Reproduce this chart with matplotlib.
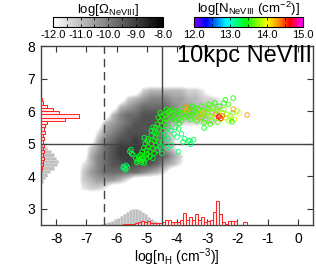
import numpy as np
import matplotlib
matplotlib.use("Agg")
import matplotlib.pyplot as plt
from matplotlib.colors import LinearSegmentedColormap, Normalize
from matplotlib.cm import ScalarMappable
from matplotlib.ticker import MultipleLocator

plt.rcParams['font.family'] = ['Liberation Sans', 'DejaVu Sans']
plt.rcParams['mathtext.fontset'] = 'custom'
plt.rcParams['mathtext.rm'] = 'Liberation Sans'
plt.rcParams['mathtext.it'] = 'Liberation Sans:italic'
plt.rcParams['axes.unicode_minus'] = False

# ---------------- data ----------------
# gas map: level code per 0.25 dex cell (rows from top y=7.0 down to 3.25; cols x=-8.0..-2.0)
omega_rows = [
    "000000000000000000000000",
    "000000000002333332210000",
    "000000000234555443322100",
    "000000003456666544332210",
    "000000035667776544332200",
    "000000345677775322222100",
    "000001456777764100000000",
    "000003567787764200000000",
    "000024678888764200000000",
    "000035678888876420000000",
    "000135677877764310000000",
    "000245666665431000000000",
    "000234443100000000000000",
    "000122100000000000000000",
    "000000000000000000000000",
]
omega_level_values = [-13.0, -11.7, -11.3, -10.9, -10.5, -10.1, -9.7, -9.3, -8.95, -8.6]

# absorber points: log nH, log T, log N(NeVIII)
pt_x = [-5.76,-5.72,-5.68,-5.70,-5.64,-5.78,
        -5.56,-5.50,-5.52,-5.46,
        -5.36,-5.30,-5.26,-5.20,-5.15,-5.10,-5.05,-5.20,-5.28,-5.12,-5.00,-5.18,-5.33,-5.08,
        -5.15,-5.10,-5.00,-4.95,-4.90,-4.85,-4.80,-4.75,-4.70,-5.05,-4.95,-4.85,-4.70,-4.65,-4.75,-4.60,-4.55,-5.00,-4.90,-4.80,-4.98,-5.08,
        -4.75,-4.70,-4.65,-4.60,-4.55,-4.50,-4.50,-4.45,-4.40,-4.62,-4.80,-4.85,-4.55,-4.40,-4.35,-4.42,-4.30,-4.68,
        -4.30,-4.20,-4.10,-4.00,-3.90,-3.80,-3.75,-4.15,-4.05,-3.95,-3.85,-4.25,-3.70,-3.65,-3.72,-3.62,-3.68,-3.60,-4.35,-4.00,-3.85,-4.15,-3.92,
        -4.20,-4.10,-4.00,-3.95,-3.85,-3.75,-3.62,-3.55,-3.45,-4.30,-4.20,-4.33,-3.96,-3.80,-4.45,-4.50,-4.05,-3.57,-3.10,
        -3.50,-3.45,-3.40,-3.35,-3.30,-3.25,-3.20,-3.15,-3.10,-3.05,-3.00,-2.95,-2.90,-2.85,-2.80,-2.75,-2.70,-2.65,-2.60,-2.55,
        -2.50,-2.45,-2.40,-2.35,-2.30,-2.25,-2.20,-2.15,-3.55,-3.35,-3.10,-2.85,-2.95,-2.75,-2.60,-3.20,-2.70,-2.62,-2.55,-2.50,
        -2.14,-1.68,-2.10,-1.94,-2.14,-2.18,-3.14,-3.27,-2.45,-2.30,-2.40,-2.00,-3.40,-3.60,-2.90,-2.65,-3.00,-3.50]
pt_y = [4.30,4.24,4.33,4.20,4.27,4.26,
        4.76,4.70,4.82,4.66,
        4.55,4.47,4.61,4.50,4.58,4.46,4.62,4.66,4.52,4.53,4.56,4.43,4.42,4.40,
        4.76,4.86,4.80,4.91,4.76,5.00,4.86,5.10,4.95,5.00,5.15,5.25,5.20,4.80,4.70,5.05,4.90,4.68,4.60,4.55,5.08,5.18,
        5.35,5.50,5.60,5.45,5.70,5.55,5.85,5.40,5.65,5.80,5.50,5.40,5.95,5.90,5.75,5.25,5.50,5.30,
        5.95,5.90,5.95,5.85,5.95,5.90,5.80,5.75,5.70,5.75,5.70,6.00,5.95,6.10,6.12,6.08,6.02,5.85,6.05,6.00,6.05,6.05,5.62,
        5.40,5.30,5.20,5.45,5.30,5.15,5.08,4.98,5.12,5.15,4.95,4.87,4.75,5.05,5.05,4.70,5.50,5.10,5.48,
        5.90,6.00,5.85,5.95,6.05,5.90,5.80,6.00,5.90,5.75,5.95,6.05,5.85,5.95,6.10,5.80,5.90,6.00,5.85,5.75,
        5.95,6.05,5.80,5.90,5.70,5.85,5.75,5.95,5.75,5.70,5.65,5.70,6.20,6.25,6.15,6.15,6.05,5.82,5.78,5.85,
        6.06,5.88,5.75,5.93,6.40,5.67,5.94,5.79,6.25,6.20,6.35,6.00,6.10,6.00,5.60,5.65,6.10,6.15]
pt_logN = [13.25,13.30,13.20,13.25,13.30,13.20,
           13.30,13.35,13.30,13.30,
           13.35,13.40,13.35,13.40,13.45,13.40,13.40,13.45,13.40,13.45,13.40,13.35,13.35,13.40,
           13.45,13.40,13.45,13.45,13.40,13.45,13.45,13.45,13.40,13.35,13.40,13.35,13.45,13.40,13.45,13.40,13.30,13.40,13.45,13.40,13.50,13.30,
           13.40,13.45,13.50,13.40,13.50,13.45,13.50,13.35,13.50,13.45,13.35,13.30,13.50,13.50,13.55,13.30,13.40,13.40,
           13.50,13.55,13.50,13.55,13.55,13.55,13.55,13.50,13.45,13.50,13.55,13.50,13.55,13.60,14.30,14.35,14.20,13.55,13.45,13.50,13.55,13.50,13.45,
           13.20,13.25,13.20,13.30,13.25,13.20,13.25,13.20,13.25,13.20,13.25,13.20,13.20,13.30,13.25,13.30,13.30,13.25,13.40,
           13.55,13.55,13.60,13.55,13.60,13.65,13.60,13.70,13.65,13.60,13.70,13.65,13.75,13.70,13.65,13.80,14.30,13.75,14.50,13.90,
           13.80,13.70,13.90,13.75,13.80,13.85,13.80,13.70,13.55,13.55,13.60,13.70,13.55,13.50,13.55,13.55,13.70,14.70,14.60,14.40,
           14.30,14.30,13.90,13.95,13.50,13.45,14.20,14.25,13.50,13.55,13.50,13.85,13.55,13.55,13.55,13.65,13.60,13.50]

# side histograms
gas_T_bins = [3.85,3.95,4.05,4.15,4.25,4.35,4.45,4.55,4.65,4.75,4.85,4.95]
gas_T_hist = [0.05,0.12,0.20,0.30,0.42,0.52,0.55,0.50,0.42,0.32,0.20,0.08]
abs_T_bins = [6.35,6.25,6.15,6.05,5.95,5.85,5.75,5.65,5.55,5.45,5.35,5.25,5.15,5.05,4.95,4.85,4.75,4.65,4.55,4.45,4.35,4.25]
abs_T_hist = [0.03,0.05,0.19,0.40,0.60,1.27,0.80,0.19,0.13,0.10,0.13,0.08,0.10,0.08,0.10,0.08,0.10,0.08,0.10,0.08,0.06,0.04]
gas_n_bins = [-6.45,-6.35,-6.25,-6.15,-6.05,-5.95,-5.85,-5.75,-5.65,-5.55,-5.45,-5.35,-5.25,-5.15,-5.05,-4.95,-4.85,-4.75,-4.65,-4.55,-4.45]
gas_n_hist = [0.03,0.06,0.09,0.13,0.17,0.22,0.28,0.35,0.41,0.46,0.49,0.48,0.45,0.40,0.33,0.26,0.19,0.13,0.08,0.04,0.02]
abs_n_bins = [-5.75,-5.65,-5.55,-5.45,-5.35,-5.25,-5.15,-5.05,-4.95,-4.85,-4.75,-4.65,-4.55,-4.45,-4.35,-4.25,-4.15,-4.05,-3.95,-3.85,
              -3.75,-3.65,-3.55,-3.45,-3.35,-3.25,-3.15,-3.05,-2.95,-2.85,-2.75,-2.65,-2.55,-2.45,-2.35,-2.25,-2.15,-2.05,-1.95,-1.85,-1.75]
abs_n_hist = [0.03,0.03,0.04,0.03,0.05,0.10,0.12,0.10,0.12,0.06,0.06,0.05,0.06,0.08,0.15,0.14,0.10,0.10,0.10,0.15,
              0.36,0.15,0.24,0.15,0.33,0.15,0.26,0.10,0.12,0.15,0.39,0.74,0.34,0.10,0.03,0.13,0.13,0.13,0.0,0.0,0.10]

x_ticks = [-8, -7, -6, -5, -4, -3, -2, -1, 0]
x_ticklabels = ["-8", "-7", "-6", "-5", "-4", "-3", "-2", "-1", "0"]
y_ticks = [3, 4, 5, 6, 7, 8]
gray_cb_ticks = [-12, -11, -10, -9, -8]
gray_cb_labels = ["-12.0", "-11.0", "-10.0", "-9.0", "-8.0"]
col_cb_ticks = [12, 13, 14, 15]
col_cb_labels = ["12.0", "13.0", "14.0", "15.0"]
ref_lines_x = [-6.4, -4.5]
ref_line_y = 5.0

# ---------------- figure ----------------
W, H = 316, 267
fig = plt.figure(figsize=(W / 100, H / 100), dpi=100)
ax = fig.add_axes([41 / W, 42 / H, 272 / W, 179 / H])

gcmap = LinearSegmentedColormap.from_list("wb", ["white", "black"])
gcmap.set_under((1, 1, 1, 0))
ccmap = LinearSegmentedColormap.from_list(
    "rb", [(0.0, "#8000ff"), (0.11, "#0000ff"), (0.30, "#00ffff"), (0.48, "#00ff00"),
           (0.67, "#ffff00"), (0.79, "#ff8000"), (0.88, "#ff0000"), (1.0, "#ff00ff")])
gnorm = Normalize(-12, -8)
cnorm = Normalize(12, 15)

levels = np.array([[int(ch) for ch in row] for row in omega_rows])
logomega = np.array(omega_level_values)[levels]
ax.imshow(logomega, extent=[-8.0, -2.0, 3.25, 7.0], origin="upper", cmap=gcmap, norm=gnorm,
          interpolation="bilinear", interpolation_stage="data", aspect="auto", zorder=1)

xmin, xmax, ymin, ymax = -8.5, 0.5, 2.5, 8.0

ax.barh(gas_T_bins, gas_T_hist, height=0.1, left=xmin, color="#c0c0c0", edgecolor="#d8d8d8", lw=0.4, zorder=2)
ax.bar(gas_n_bins, gas_n_hist, width=0.1, bottom=ymin, color="#c0c0c0", edgecolor="#d8d8d8", lw=0.4, zorder=2)
ax.barh(abs_T_bins, abs_T_hist, height=0.1, left=xmin, facecolor=(1, 0.85, 0.85, 0.6), edgecolor="#ff2020", lw=0.7, zorder=3)
ax.bar(abs_n_bins, abs_n_hist, width=0.1, bottom=ymin, facecolor=(1, 0.85, 0.85, 0.6), edgecolor="#ff2020", lw=0.7, zorder=3)

ax.axvline(ref_lines_x[0], color="#444444", lw=1.0, ls=(0, (6, 3.5)), zorder=4)
ax.axvline(ref_lines_x[1], color="#444444", lw=1.0, zorder=4)
ax.axhline(ref_line_y, color="#444444", lw=1.0, zorder=4)

cols = ccmap(cnorm(np.array(pt_logN)))
ax.scatter(pt_x, pt_y, s=11, facecolors="none", edgecolors=cols, linewidths=0.6, zorder=5)

ax.text(0.995, 1.005, "10kpc NeVIII", transform=ax.transAxes, ha="right", va="top", fontsize=17, zorder=6)

ax.set_xlim(xmin, xmax)
ax.set_ylim(ymin, ymax)
ax.set_xticks(x_ticks)
ax.set_xticklabels(x_ticklabels)
ax.set_yticks(y_ticks)
ax.tick_params(direction="in", top=True, right=True, length=4, width=0.8, labelsize=10, color="#333333")
ax.tick_params(axis="x", pad=5)
ax.tick_params(axis="y", pad=4)
for s in ax.spines.values():
    s.set_color("#444444")
    s.set_linewidth(1.0)
ax.set_xlabel(r"log[n$_{\rm H}$ (cm$^{-3}$)]", fontsize=10, labelpad=0)

# colorbars
cax1 = fig.add_axes([53 / W, 1 - 27 / H, 110 / W, 10 / H])
cb1 = fig.colorbar(ScalarMappable(norm=gnorm, cmap=gcmap), cax=cax1, orientation="horizontal")
cb1.set_ticks(gray_cb_ticks)
cb1.set_ticklabels(gray_cb_labels)
cax2 = fig.add_axes([194 / W, 1 - 27 / H, 109 / W, 10 / H])
cb2 = fig.colorbar(ScalarMappable(norm=cnorm, cmap=ccmap), cax=cax2, orientation="horizontal")
cb2.set_ticks(col_cb_ticks)
cb2.set_ticklabels(col_cb_labels)
for cb in (cb1, cb2):
    cb.outline.set_linewidth(0.8)
    cb.ax.xaxis.set_minor_locator(MultipleLocator(0.5))
    cb.ax.tick_params(which="both", direction="in", top=True, length=2, width=0.6, labelsize=8, pad=2)

fig.text(108 / W, 1 - 13.5 / H, r"log[$\Omega_{\rm NeVIII}$]", ha="center", va="baseline", fontsize=9.5)
fig.text(248.5 / W, 1 - 13.5 / H, r"log[N$_{\rm NeVIII}$ (cm$^{-2}$)]", ha="center", va="baseline", fontsize=9.5)

fig.savefig("out.png", dpi=100)
